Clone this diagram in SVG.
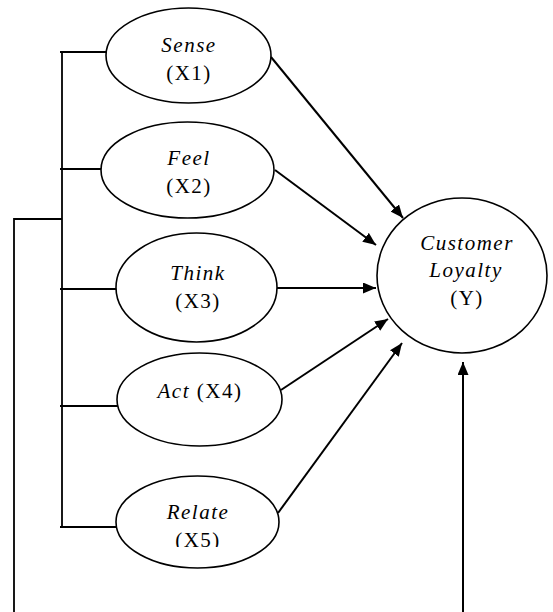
<svg xmlns="http://www.w3.org/2000/svg" width="553" height="612" viewBox="0 0 553 612">
  <style>
    .node { fill: #fff; stroke: #000; stroke-width: 1.6; }
    .lbl { font-size: 21px; letter-spacing: 1.5px; fill: #000; text-anchor: middle; }
    .it { font-style: italic; }
    .wire { fill: none; stroke: #000; stroke-width: 1.8; }
    .arrow { fill: none; stroke: #000; stroke-width: 2; marker-end: url(#head); }
  </style>
  <defs>
    <marker id="head" viewBox="0 0 13 11" refX="13" refY="5.5" markerWidth="13" markerHeight="11" markerUnits="userSpaceOnUse" orient="auto">
      <path d="M0,0 L13,5.5 L0,11 z" fill="#000"/>
    </marker>
    <clipPath id="relateClip">
      <rect x="100" y="470" width="200" height="77"/>
    </clipPath>
  </defs>
  <rect width="553" height="612" fill="#fff"/>

  <!-- connectors -->
  <g id="connectors">
    <!-- bracket joining the five dimensions -->
    <path class="wire" d="M62,52 V527"/>
    <path class="wire" d="M60,52 H106"/>
    <path class="wire" d="M60,169 H101"/>
    <path class="wire" d="M60,289 H116"/>
    <path class="wire" d="M60,406 H118"/>
    <path class="wire" d="M60,527 H116"/>
    <!-- combined effect line -->
    <path class="wire" d="M62,219 H14 V612"/>
    <path class="arrow" d="M463,612 V362"/>
    <!-- individual effects -->
    <path class="arrow" d="M271,57 L403,218"/>
    <path class="arrow" d="M275,170 L376,245"/>
    <path class="arrow" d="M277,288 L376,288"/>
    <path class="arrow" d="M281,390 L388,319"/>
    <path class="arrow" d="M278,513 L402,343"/>
  </g>

  <g font-family="Liberation Serif, Tinos, 'Times New Roman', 'DejaVu Serif', serif">
    <g id="sense">
      <ellipse class="node" cx="188.5" cy="55.5" rx="82.5" ry="47.5"/>
      <text class="lbl it" x="189" y="52">Sense</text>
      <text class="lbl" x="189" y="80">(X1)</text>
    </g>

    <g id="feel">
      <ellipse class="node" cx="187.5" cy="170" rx="86.5" ry="48"/>
      <text class="lbl it" x="189" y="165">Feel</text>
      <text class="lbl" x="189" y="193">(X2)</text>
    </g>

    <g id="think">
      <ellipse class="node" cx="196.5" cy="287.5" rx="80.5" ry="54.5"/>
      <text class="lbl it" x="198" y="280">Think</text>
      <text class="lbl" x="198" y="308">(X3)</text>
    </g>

    <g id="act">
      <ellipse class="node" cx="199.5" cy="399.5" rx="82.5" ry="46.5"/>
      <text class="lbl" x="200" y="398"><tspan class="it">Act</tspan> (X4)</text>
    </g>

    <g id="relate">
      <ellipse class="node" cx="197.5" cy="522" rx="81.5" ry="46"/>
      <text class="lbl it" x="198" y="519">Relate</text>
      <text class="lbl" x="198" y="547" clip-path="url(#relateClip)">(X5)</text>
    </g>

    <g id="loyalty">
      <ellipse class="node" cx="462" cy="275.5" rx="85" ry="77.5"/>
      <text class="lbl it" x="467" y="250">Customer</text>
      <text class="lbl it" x="466" y="277">Loyalty</text>
      <text class="lbl" x="467" y="305">(Y)</text>
    </g>
  </g>
</svg>
